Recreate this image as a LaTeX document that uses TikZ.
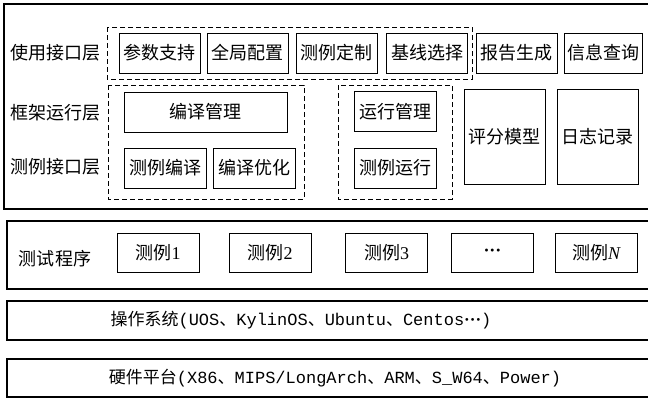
\documentclass[tikz,border=0pt]{standalone}
\usepackage{fontspec}
\setmainfont{Liberation Serif}
\newfontfamily\cjk{Noto Sans CJK SC}
\newfontfamily\mono{Liberation Mono}
\newcommand{\ce}{\cjk 、}
\begin{document}
\begin{tikzpicture}[x=1pt,y=-1pt,
    box/.style={draw,line width=1pt,inner sep=0pt,minimum width=81pt,minimum height=40pt,
      font=\fontsize{18}{18}\selectfont\cjk},
    lbl/.style={font=\fontsize{18}{18}\selectfont\cjk},
    grp/.style={line width=1pt,dash pattern=on 5pt off 3pt},
    layer/.style={line width=1.2pt}]
  \useasboundingbox (0,0) rectangle (648,399);
  % layers
  \draw[layer] (4,4) rectangle (652,209);
  \draw[layer] (7,221) rectangle (652,289);
  \draw[layer] (7,301) rectangle (652,340);
  \draw[layer] (7,359) rectangle (652,397);
  % dashed groups
  \draw[grp] (107,27) rectangle (472,79);
  \draw[grp] (108,85) rectangle (304,199);
  \draw[grp] (338,85) rectangle (452,199);
  % row labels
  \draw
    (55,53) node[lbl] (use){使用接口层}
    (55,113) node[lbl] (frame){框架运行层}
    (55,167) node[lbl] (iface){测例接口层}
    (55,259) node[lbl] (prog){测试程序};
  % interface boxes
  \draw
    (159.5,53) node[box] (param){参数支持}
    (247.5,53) node[box] (conf){全局配置}
    (336.5,53) node[box] (cust){测例定制}
    (427,53) node[box] (base){基线选择}
    (516.5,53) node[box] (report){报告生成}
    (603,53) node[box,minimum width=78pt] (query){信息查询};
  % framework boxes
  \draw
    (205.5,112) node[box,minimum width=163pt] (cmgr){编译管理}
    (165,168) node[box,minimum width=82pt] (ccomp){测例编译}
    (254,168) node[box,minimum width=82pt] (copt){编译优化}
    (395,111.5) node[box,minimum width=82pt] (rmgr){运行管理}
    (395,168) node[box,minimum width=82pt] (crun){测例运行}
    (504.5,136.5) node[box,minimum height=95pt] (score){评分模型}
    (597.5,136.5) node[box,minimum height=95pt] (log){日志记录};
  % test cases
  \begin{scope}[every node/.append style={box,minimum width=82pt,minimum height=39pt}]
    \draw
      (158,252.5) node (c1){测例{\rmfamily 1}}
      (270,252.5) node (c2){测例{\rmfamily 2}}
      (386.5,252.5) node (c3){测例{\rmfamily 3}}
      (492.5,252.5) node (cdots){\rmfamily\bfseries ···}
      (596,252.5) node (cn){测例{\rmfamily\itshape N}};
  \end{scope}
  % os and hardware
  \draw
    (301,320.5) node[font=\fontsize{17}{17}\selectfont\mono] (os)
      {{\cjk 操作系统}(UOS{\ce}KylinOS{\ce}Ubuntu{\ce}Centos{\rmfamily\bfseries ···})}
    (335,378) node[font=\fontsize{17}{17}\selectfont\mono] (hw)
      {{\cjk 硬件平台}(X86{\ce}MIPS/LongArch{\ce}ARM{\ce}S\_W64{\ce}Power)};
\end{tikzpicture}
\end{document}
